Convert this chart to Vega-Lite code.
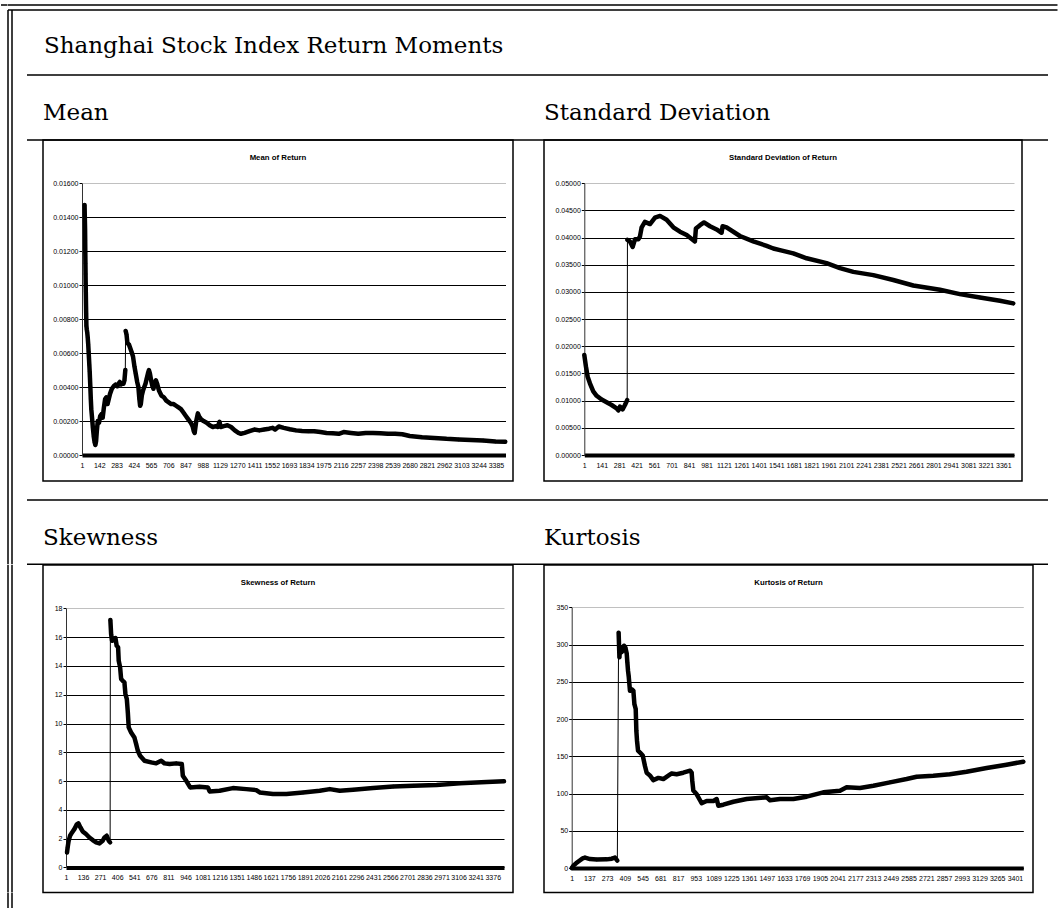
{
"$schema": "https://vega.github.io/schema/vega-lite/v6.json",
"background": "white",
"padding": 0,
"autosize": {"type": "pad"},
"config": {
  "view": {"stroke": null},
  "title": {"font": "DejaVu Serif", "fontSize": 23, "fontWeight": "normal", "color": "black", "anchor": "start", "frame": "group"},
  "axis": {"labelFont": "Liberation Sans", "labelFontSize": 7, "labelColor": "black", "tickColor": "black", "domainColor": "black"}
},
"data": {"values": []},
"datasets": {
"mean": [
{"t":22,"v":0.01472,"p":"a"},{"t":24,"v":0.014,"p":"a"},{"t":26,"v":0.01335,"p":"a"},{"t":27,"v":0.01262,"p":"a"},{"t":28,"v":0.01192,"p":"a"},{"t":29,"v":0.01129,"p":"a"},{"t":30,"v":0.01066,"p":"a"},{"t":31,"v":0.01011,"p":"a"},{"t":32,"v":0.00962,"p":"a"},{"t":33,"v":0.00917,"p":"a"},{"t":34,"v":0.00874,"p":"a"},{"t":35,"v":0.00834,"p":"a"},{"t":36,"v":0.00795,"p":"a"},{"t":37,"v":0.0076,"p":"a"},{"t":40,"v":0.0074,"p":"a"},{"t":44,"v":0.0072,"p":"a"},{"t":48,"v":0.0069,"p":"a"},{"t":52,"v":0.0065,"p":"a"},{"t":55,"v":0.0061,"p":"a"},{"t":58,"v":0.0057,"p":"a"},{"t":61,"v":0.0053,"p":"a"},{"t":64,"v":0.0049,"p":"a"},{"t":66,"v":0.00455,"p":"a"},{"t":69,"v":0.00405,"p":"a"},{"t":73,"v":0.0033,"p":"a"},{"t":77,"v":0.0027,"p":"a"},{"t":83,"v":0.0022,"p":"a"},{"t":90,"v":0.0016,"p":"a"},{"t":97,"v":0.0011,"p":"a"},{"t":104,"v":0.00075,"p":"a"},{"t":110,"v":0.00059,"p":"a"},{"t":116,"v":0.0008,"p":"a"},{"t":122,"v":0.0014,"p":"a"},{"t":130,"v":0.002,"p":"a"},{"t":140,"v":0.0019,"p":"a"},{"t":150,"v":0.0023,"p":"a"},{"t":160,"v":0.0024,"p":"a"},{"t":170,"v":0.0022,"p":"a"},{"t":180,"v":0.0028,"p":"a"},{"t":190,"v":0.0033,"p":"a"},{"t":200,"v":0.0034,"p":"a"},{"t":210,"v":0.003,"p":"a"},{"t":220,"v":0.0033,"p":"a"},{"t":230,"v":0.0036,"p":"a"},{"t":245,"v":0.0039,"p":"a"},{"t":260,"v":0.00405,"p":"a"},{"t":275,"v":0.00415,"p":"a"},{"t":290,"v":0.00405,"p":"a"},{"t":300,"v":0.0042,"p":"a"},{"t":310,"v":0.0043,"p":"a"},{"t":320,"v":0.00415,"p":"a"},{"t":330,"v":0.00425,"p":"a"},{"t":340,"v":0.0042,"p":"a"},{"t":348,"v":0.0044,"p":"a"},{"t":355,"v":0.005,"p":"a"},
{"t":358,"v":0.0073,"p":"b"},{"t":365,"v":0.0071,"p":"b"},{"t":372,"v":0.0066,"p":"b"},{"t":385,"v":0.0065,"p":"b"},{"t":395,"v":0.0063,"p":"b"},{"t":405,"v":0.0061,"p":"b"},{"t":418,"v":0.0058,"p":"b"},{"t":430,"v":0.0052,"p":"b"},{"t":440,"v":0.0048,"p":"b"},{"t":452,"v":0.0043,"p":"b"},{"t":462,"v":0.004,"p":"b"},{"t":470,"v":0.0033,"p":"b"},{"t":476,"v":0.0029,"p":"b"},{"t":482,"v":0.003,"p":"b"},{"t":490,"v":0.0035,"p":"b"},{"t":500,"v":0.0038,"p":"b"},{"t":510,"v":0.004,"p":"b"},{"t":520,"v":0.0042,"p":"b"},{"t":530,"v":0.0045,"p":"b"},{"t":540,"v":0.0048,"p":"b"},{"t":548,"v":0.005,"p":"b"},{"t":556,"v":0.0048,"p":"b"},{"t":566,"v":0.0044,"p":"b"},{"t":575,"v":0.0041,"p":"b"},{"t":585,"v":0.0039,"p":"b"},{"t":595,"v":0.0042,"p":"b"},{"t":605,"v":0.0044,"p":"b"},{"t":615,"v":0.0042,"p":"b"},{"t":630,"v":0.0038,"p":"b"},{"t":650,"v":0.0035,"p":"b"},{"t":670,"v":0.0034,"p":"b"},{"t":690,"v":0.0032,"p":"b"},{"t":710,"v":0.0031,"p":"b"},{"t":730,"v":0.003,"p":"b"},{"t":750,"v":0.003,"p":"b"},{"t":770,"v":0.0029,"p":"b"},{"t":790,"v":0.0028,"p":"b"},{"t":810,"v":0.0027,"p":"b"},{"t":830,"v":0.0025,"p":"b"},{"t":850,"v":0.0023,"p":"b"},{"t":870,"v":0.0021,"p":"b"},{"t":890,"v":0.0019,"p":"b"},{"t":905,"v":0.0017,"p":"b"},{"t":915,"v":0.0014,"p":"b"},{"t":922,"v":0.0013,"p":"b"},{"t":935,"v":0.002,"p":"b"},{"t":948,"v":0.00245,"p":"b"},{"t":960,"v":0.00225,"p":"b"},{"t":975,"v":0.0021,"p":"b"},{"t":995,"v":0.002,"p":"b"},{"t":1020,"v":0.0019,"p":"b"},{"t":1045,"v":0.00175,"p":"b"},{"t":1070,"v":0.00165,"p":"b"},{"t":1095,"v":0.0017,"p":"b"},{"t":1110,"v":0.00165,"p":"b"},{"t":1125,"v":0.00195,"p":"b"},{"t":1135,"v":0.00165,"p":"b"},{"t":1160,"v":0.0017,"p":"b"},{"t":1190,"v":0.00175,"p":"b"},{"t":1220,"v":0.00165,"p":"b"},{"t":1250,"v":0.00145,"p":"b"},{"t":1280,"v":0.0013,"p":"b"},{"t":1300,"v":0.00125,"p":"b"},{"t":1330,"v":0.0013,"p":"b"},{"t":1370,"v":0.0014,"p":"b"},{"t":1410,"v":0.0015,"p":"b"},{"t":1450,"v":0.00145,"p":"b"},{"t":1490,"v":0.0015,"p":"b"},{"t":1530,"v":0.00155,"p":"b"},{"t":1560,"v":0.0016,"p":"b"},{"t":1580,"v":0.0015,"p":"b"},{"t":1610,"v":0.00168,"p":"b"},{"t":1650,"v":0.0016,"p":"b"},{"t":1700,"v":0.00152,"p":"b"},{"t":1750,"v":0.00145,"p":"b"},{"t":1800,"v":0.00142,"p":"b"},{"t":1850,"v":0.0014,"p":"b"},{"t":1900,"v":0.0014,"p":"b"},{"t":1950,"v":0.00135,"p":"b"},{"t":2000,"v":0.0013,"p":"b"},{"t":2050,"v":0.00128,"p":"b"},{"t":2100,"v":0.00125,"p":"b"},{"t":2140,"v":0.00135,"p":"b"},{"t":2200,"v":0.0013,"p":"b"},{"t":2260,"v":0.00125,"p":"b"},{"t":2320,"v":0.0013,"p":"b"},{"t":2380,"v":0.0013,"p":"b"},{"t":2440,"v":0.00128,"p":"b"},{"t":2500,"v":0.00125,"p":"b"},{"t":2560,"v":0.00125,"p":"b"},{"t":2620,"v":0.00122,"p":"b"},{"t":2680,"v":0.00112,"p":"b"},{"t":2780,"v":0.00105,"p":"b"},{"t":2880,"v":0.001,"p":"b"},{"t":2980,"v":0.00095,"p":"b"},{"t":3080,"v":0.00092,"p":"b"},{"t":3180,"v":0.00088,"p":"b"},{"t":3280,"v":0.00085,"p":"b"},{"t":3380,"v":0.0008,"p":"b"},{"t":3461,"v":0.00078,"p":"b"}
],
"std": [
{"t":1,"v":0.0184,"p":"a"},{"t":14,"v":0.0163,"p":"a"},{"t":28,"v":0.0144,"p":"a"},{"t":46,"v":0.0132,"p":"a"},{"t":73,"v":0.0117,"p":"a"},{"t":100,"v":0.0109,"p":"a"},{"t":140,"v":0.0102,"p":"a"},{"t":180,"v":0.0097,"p":"a"},{"t":220,"v":0.0092,"p":"a"},{"t":260,"v":0.0086,"p":"a"},{"t":274,"v":0.0082,"p":"a"},{"t":287,"v":0.0089,"p":"a"},{"t":308,"v":0.0084,"p":"a"},{"t":327,"v":0.0092,"p":"a"},{"t":345,"v":0.0101,"p":"a"},
{"t":347,"v":0.0396,"p":"b"},{"t":367,"v":0.0393,"p":"b"},{"t":389,"v":0.0383,"p":"b"},{"t":407,"v":0.0397,"p":"b"},{"t":434,"v":0.0397,"p":"b"},{"t":447,"v":0.0402,"p":"b"},{"t":461,"v":0.0419,"p":"b"},{"t":487,"v":0.0429,"p":"b"},{"t":528,"v":0.0425,"p":"b"},{"t":568,"v":0.0437,"p":"b"},{"t":608,"v":0.044,"p":"b"},{"t":661,"v":0.0433,"p":"b"},{"t":715,"v":0.0419,"p":"b"},{"t":768,"v":0.0411,"p":"b"},{"t":822,"v":0.0405,"p":"b"},{"t":888,"v":0.0393,"p":"b"},{"t":896,"v":0.0417,"p":"b"},{"t":929,"v":0.0423,"p":"b"},{"t":961,"v":0.0428,"p":"b"},{"t":1009,"v":0.0421,"p":"b"},{"t":1062,"v":0.0415,"p":"b"},{"t":1102,"v":0.0409,"p":"b"},{"t":1110,"v":0.0421,"p":"b"},{"t":1142,"v":0.0419,"p":"b"},{"t":1249,"v":0.0403,"p":"b"},{"t":1356,"v":0.0393,"p":"b"},{"t":1463,"v":0.0385,"p":"b"},{"t":1517,"v":0.038,"p":"b"},{"t":1570,"v":0.0377,"p":"b"},{"t":1677,"v":0.0371,"p":"b"},{"t":1784,"v":0.0362,"p":"b"},{"t":1944,"v":0.0353,"p":"b"},{"t":2051,"v":0.0344,"p":"b"},{"t":2158,"v":0.0337,"p":"b"},{"t":2319,"v":0.0331,"p":"b"},{"t":2479,"v":0.0322,"p":"b"},{"t":2639,"v":0.0312,"p":"b"},{"t":2853,"v":0.0304,"p":"b"},{"t":3013,"v":0.0296,"p":"b"},{"t":3174,"v":0.029,"p":"b"},{"t":3334,"v":0.0284,"p":"b"},{"t":3441,"v":0.0279,"p":"b"}
],
"skew": [
{"t":9,"v":1.04,"p":"a"},{"t":14,"v":1.39,"p":"a"},{"t":22,"v":1.85,"p":"a"},{"t":33,"v":2.2,"p":"a"},{"t":49,"v":2.43,"p":"a"},{"t":67,"v":2.66,"p":"a"},{"t":85,"v":2.97,"p":"a"},{"t":99,"v":3.06,"p":"a"},{"t":115,"v":2.78,"p":"a"},{"t":133,"v":2.5,"p":"a"},{"t":159,"v":2.32,"p":"a"},{"t":186,"v":2.08,"p":"a"},{"t":212,"v":1.9,"p":"a"},{"t":239,"v":1.74,"p":"a"},{"t":265,"v":1.67,"p":"a"},{"t":291,"v":1.85,"p":"a"},{"t":305,"v":2.08,"p":"a"},{"t":323,"v":2.2,"p":"a"},{"t":339,"v":1.85,"p":"a"},{"t":350,"v":1.74,"p":"a"},
{"t":352,"v":17.19,"p":"b"},{"t":358,"v":16.2,"p":"b"},{"t":365,"v":15.75,"p":"b"},{"t":379,"v":15.87,"p":"b"},{"t":392,"v":15.94,"p":"b"},{"t":402,"v":15.4,"p":"b"},{"t":413,"v":15.3,"p":"b"},{"t":418,"v":14.36,"p":"b"},{"t":429,"v":13.9,"p":"b"},{"t":437,"v":13.1,"p":"b"},{"t":450,"v":12.97,"p":"b"},{"t":463,"v":12.86,"p":"b"},{"t":471,"v":12.05,"p":"b"},{"t":482,"v":11.7,"p":"b"},{"t":490,"v":10.77,"p":"b"},{"t":497,"v":9.73,"p":"b"},{"t":516,"v":9.38,"p":"b"},{"t":542,"v":9.03,"p":"b"},{"t":556,"v":8.57,"p":"b"},{"t":569,"v":8.11,"p":"b"},{"t":587,"v":7.76,"p":"b"},{"t":622,"v":7.41,"p":"b"},{"t":674,"v":7.3,"p":"b"},{"t":714,"v":7.23,"p":"b"},{"t":754,"v":7.41,"p":"b"},{"t":780,"v":7.23,"p":"b"},{"t":820,"v":7.18,"p":"b"},{"t":872,"v":7.23,"p":"b"},{"t":917,"v":7.18,"p":"b"},{"t":925,"v":6.37,"p":"b"},{"t":952,"v":6.02,"p":"b"},{"t":983,"v":5.56,"p":"b"},{"t":1057,"v":5.6,"p":"b"},{"t":1123,"v":5.56,"p":"b"},{"t":1137,"v":5.28,"p":"b"},{"t":1216,"v":5.33,"p":"b"},{"t":1321,"v":5.51,"p":"b"},{"t":1427,"v":5.44,"p":"b"},{"t":1506,"v":5.37,"p":"b"},{"t":1533,"v":5.21,"p":"b"},{"t":1638,"v":5.1,"p":"b"},{"t":1744,"v":5.1,"p":"b"},{"t":1876,"v":5.21,"p":"b"},{"t":2008,"v":5.33,"p":"b"},{"t":2087,"v":5.44,"p":"b"},{"t":2166,"v":5.33,"p":"b"},{"t":2272,"v":5.4,"p":"b"},{"t":2430,"v":5.51,"p":"b"},{"t":2589,"v":5.63,"p":"b"},{"t":2747,"v":5.68,"p":"b"},{"t":2932,"v":5.72,"p":"b"},{"t":3117,"v":5.84,"p":"b"},{"t":3328,"v":5.93,"p":"b"},{"t":3465,"v":5.98,"p":"b"}
],
"kurt": [
{"t":1,"v":0,"p":"a"},{"t":6,"v":1,"p":"a"},{"t":14,"v":3.1,"p":"a"},{"t":34,"v":6.3,"p":"a"},{"t":60,"v":9.8,"p":"a"},{"t":85,"v":13,"p":"a"},{"t":103,"v":14,"p":"a"},{"t":142,"v":12,"p":"a"},{"t":193,"v":11.5,"p":"a"},{"t":269,"v":11.6,"p":"a"},{"t":308,"v":12.5,"p":"a"},{"t":333,"v":14,"p":"a"},{"t":351,"v":10,"p":"a"},
{"t":361,"v":316,"p":"b"},{"t":367,"v":283,"p":"b"},{"t":372,"v":296,"p":"b"},{"t":384,"v":290,"p":"b"},{"t":397,"v":294,"p":"b"},{"t":402,"v":298.5,"p":"b"},{"t":413,"v":296,"p":"b"},{"t":423,"v":288,"p":"b"},{"t":428,"v":276,"p":"b"},{"t":433,"v":265,"p":"b"},{"t":438,"v":258,"p":"b"},{"t":448,"v":238,"p":"b"},{"t":461,"v":240,"p":"b"},{"t":474,"v":238,"p":"b"},{"t":482,"v":220,"p":"b"},{"t":492,"v":213.5,"p":"b"},{"t":497,"v":184,"p":"b"},{"t":502,"v":171,"p":"b"},{"t":510,"v":157.5,"p":"b"},{"t":525,"v":155,"p":"b"},{"t":546,"v":151,"p":"b"},{"t":563,"v":137,"p":"b"},{"t":576,"v":128,"p":"b"},{"t":602,"v":124,"p":"b"},{"t":627,"v":118,"p":"b"},{"t":666,"v":121,"p":"b"},{"t":704,"v":119.5,"p":"b"},{"t":742,"v":124,"p":"b"},{"t":768,"v":127,"p":"b"},{"t":806,"v":126,"p":"b"},{"t":857,"v":128,"p":"b"},{"t":909,"v":130.7,"p":"b"},{"t":921,"v":128,"p":"b"},{"t":926,"v":117,"p":"b"},{"t":934,"v":104,"p":"b"},{"t":960,"v":99,"p":"b"},{"t":998,"v":87,"p":"b"},{"t":1036,"v":90,"p":"b"},{"t":1088,"v":90,"p":"b"},{"t":1113,"v":92.6,"p":"b"},{"t":1126,"v":83.7,"p":"b"},{"t":1164,"v":85,"p":"b"},{"t":1241,"v":89,"p":"b"},{"t":1343,"v":92.6,"p":"b"},{"t":1497,"v":94.9,"p":"b"},{"t":1522,"v":91,"p":"b"},{"t":1599,"v":92.6,"p":"b"},{"t":1701,"v":92.6,"p":"b"},{"t":1803,"v":95.8,"p":"b"},{"t":1931,"v":101.6,"p":"b"},{"t":2059,"v":103.8,"p":"b"},{"t":2110,"v":108.3,"p":"b"},{"t":2212,"v":107.4,"p":"b"},{"t":2315,"v":110.5,"p":"b"},{"t":2442,"v":115,"p":"b"},{"t":2570,"v":119.5,"p":"b"},{"t":2647,"v":122.6,"p":"b"},{"t":2775,"v":124,"p":"b"},{"t":2902,"v":126,"p":"b"},{"t":3030,"v":129.3,"p":"b"},{"t":3184,"v":134.3,"p":"b"},{"t":3337,"v":138.7,"p":"b"},{"t":3465,"v":142.8,"p":"b"}
]
},
"columns": 9,
"spacing": 0,
"bounds": "flush",
"align": "each",
"concat": [
 {"width": 6.5, "height": 5, "mark": "point", "encoding": {}},
 {"width": 4, "height": 5, "mark": "point", "encoding": {}},
 {"width": 15, "height": 5, "mark": "point", "encoding": {}},
 {"width": 16, "height": 5, "mark": "point", "encoding": {}},
 {"width": 470, "height": 5, "mark": "point", "encoding": {}},
 {"width": 31, "height": 5, "mark": "point", "encoding": {}},
 {"width": 489, "height": 5, "mark": "point", "encoding": {}},
 {"width": 15, "height": 5, "mark": "point", "encoding": {}},
 {"width": 9.5, "height": 5, "mark": "point", "encoding": {}},

 {"width": 6.5, "height": 5, "mark": "point", "encoding": {}, "view": {"stroke": "black", "strokeWidth": 1.5, "strokeDash": [6.5, 16.5]}},
 {"width": 4, "height": 5, "mark": "point", "encoding": {}, "view": {"stroke": "black", "strokeWidth": 1.5, "strokeDash": [4, 5, 4, 5]}},
 {"width": 15, "height": 5, "mark": "point", "encoding": {}, "view": {"stroke": "black", "strokeWidth": 1.5, "strokeDash": [15, 5, 15, 5]}},
 {"width": 16, "height": 5, "mark": "point", "encoding": {}, "view": {"stroke": "black", "strokeWidth": 1.5, "strokeDash": [16, 5, 16, 5]}},
 {"width": 470, "height": 5, "mark": "point", "encoding": {}, "view": {"stroke": "black", "strokeWidth": 1.5, "strokeDash": [470, 5, 470, 5]}},
 {"width": 31, "height": 5, "mark": "point", "encoding": {}, "view": {"stroke": "black", "strokeWidth": 1.5, "strokeDash": [31, 5, 31, 5]}},
 {"width": 489, "height": 5, "mark": "point", "encoding": {}, "view": {"stroke": "black", "strokeWidth": 1.5, "strokeDash": [489, 5, 489, 5]}},
 {"width": 15, "height": 5, "mark": "point", "encoding": {}, "view": {"stroke": "black", "strokeWidth": 1.5, "strokeDash": [15, 5, 15, 5]}},
 {"width": 9.5, "height": 5, "mark": "point", "encoding": {}, "view": {"stroke": "black", "strokeWidth": 1.5, "strokeDash": [9.5, 5, 9.5, 5]}},

 {"width": 6.5, "height": 65, "mark": "point", "encoding": {}},
 {"width": 4, "height": 65, "mark": "point", "encoding": {}, "view": {"stroke": "black", "strokeWidth": 1.5, "strokeDash": [0, 4, 65, 4, 65, 0]}},
 {"width": 15, "height": 65, "mark": "point", "encoding": {}},
 {"width": 16, "height": 65, "mark": "point", "encoding": {}},
 {"width": 470, "height": 65, "mark": "point", "encoding": {}, "title": {"text": "Shanghai Stock Index Return Moments", "dx": 1, "offset": -48}},
 {"width": 31, "height": 65, "mark": "point", "encoding": {}},
 {"width": 489, "height": 65, "mark": "point", "encoding": {}},
 {"width": 15, "height": 65, "mark": "point", "encoding": {}},
 {"width": 9.5, "height": 65, "mark": "point", "encoding": {}},

 {"width": 6.5, "height": 65, "mark": "point", "encoding": {}},
 {"width": 4, "height": 65, "mark": "point", "encoding": {}, "view": {"stroke": "black", "strokeWidth": 1.5, "strokeDash": [0, 4, 65, 4, 65, 0]}},
 {"width": 15, "height": 65, "mark": "point", "encoding": {}},
 {"width": 16, "height": 65, "mark": "point", "encoding": {}, "view": {"stroke": "black", "strokeWidth": 1.5, "strokeDash": [16, 65, 16, 65]}},
 {"width": 470, "height": 65, "mark": "point", "encoding": {}, "view": {"stroke": "black", "strokeWidth": 1.5, "strokeDash": [470, 65, 470, 65]}, "title": {"text": "Mean", "dx": 0, "offset": -50}},
 {"width": 31, "height": 65, "mark": "point", "encoding": {}, "view": {"stroke": "black", "strokeWidth": 1.5, "strokeDash": [31, 65, 31, 65]}},
 {"width": 489, "height": 65, "mark": "point", "encoding": {}, "view": {"stroke": "black", "strokeWidth": 1.5, "strokeDash": [489, 65, 489, 65]}, "title": {"text": "Standard Deviation", "dx": 0, "offset": -50}},
 {"width": 15, "height": 65, "mark": "point", "encoding": {}, "view": {"stroke": "black", "strokeWidth": 1.5, "strokeDash": [15, 65, 15, 65]}},
 {"width": 9.5, "height": 65, "mark": "point", "encoding": {}},

 {"width": 6.5, "height": 341, "mark": "point", "encoding": {}},
 {"width": 4, "height": 341, "mark": "point", "encoding": {}, "view": {"stroke": "black", "strokeWidth": 1.5, "strokeDash": [0, 4, 341, 4, 341, 0]}},
 {"width": 15, "height": 341, "mark": "point", "encoding": {}},
 {"width": 16, "height": 341, "mark": "point", "encoding": {}},
 {"width": 470, "height": 341, "view": {"stroke": "black", "strokeWidth": 1.5},
  "title": {"text": "Mean of Return", "font": "Liberation Sans", "fontSize": 7.8, "fontWeight": "bold", "anchor": "middle", "offset": -22},
  "data": {"name": "mean"},
  "encoding": {
    "x": {"field": "t", "type": "quantitative", "scale": {"domain": [1, 3463], "range": [39, 462.5], "nice": false, "zero": false},
          "axis": {"title": null, "offset": -26, "format": "d", "values": [1,142,283,424,565,706,847,988,1129,1270,1411,1552,1693,1834,1975,2116,2257,2398,2539,2680,2821,2962,3103,3244,3385], "grid": false, "ticks": false, "domainWidth": 4, "labelPadding": 6.5, "labelOverlap": false, "labelFlush": false, "labelBound": false}},
    "y": {"field": "v", "type": "quantitative", "scale": {"domain": [0, 0.016], "range": [315, 43.3], "nice": false, "zero": false},
          "axis": {"title": null, "offset": -39, "values": [0,0.002,0.004,0.006,0.008,0.01,0.012,0.014,0.016], "format": ".5f", "grid": true, "gridColor": {"condition": {"test": "datum.value >= 0.016", "value": "#c0c0c0"}, "value": "black"}, "gridWidth": 1, "domainWidth": 1, "domainColor": "#333333", "tickSize": 3, "labelPadding": 1, "labelOverlap": false}}
  },
  "layer": [
    {"mark": {"type": "line", "color": "black", "strokeWidth": 1}, "encoding": {}},
    {"mark": {"type": "line", "color": "black", "strokeWidth": 4.5, "strokeJoin": "round", "strokeCap": "round"}, "encoding": {"detail": {"field": "p"}}},
    {"mark": {"type": "point", "shape": "diamond", "filled": true, "color": "black", "size": 16, "opacity": 1}}
  ]},
 {"width": 31, "height": 341, "mark": "point", "encoding": {}},
 {"width": 478, "height": 341, "view": {"stroke": "black", "strokeWidth": 1.5},
  "title": {"text": "Standard Deviation of Return", "font": "Liberation Sans", "fontSize": 7.8, "fontWeight": "bold", "anchor": "middle", "offset": -22},
  "data": {"name": "std"},
  "encoding": {
    "x": {"field": "t", "type": "quantitative", "scale": {"domain": [1, 3447], "range": [40.3, 470], "nice": false, "zero": false},
          "axis": {"title": null, "offset": -26, "format": "d", "values": [1,141,281,421,561,701,841,981,1121,1261,1401,1541,1681,1821,1961,2101,2241,2381,2521,2661,2801,2941,3081,3221,3361], "grid": false, "ticks": false, "domainWidth": 4, "labelPadding": 6.5, "labelOverlap": false, "labelFlush": false, "labelBound": false}},
    "y": {"field": "v", "type": "quantitative", "scale": {"domain": [0, 0.05], "range": [315, 43.3], "nice": false, "zero": false},
          "axis": {"title": null, "offset": -40.3, "values": [0,0.005,0.01,0.015,0.02,0.025,0.03,0.035,0.04,0.045,0.05], "format": ".5f", "grid": true, "gridColor": {"condition": {"test": "datum.value >= 0.05", "value": "#c0c0c0"}, "value": "black"}, "gridWidth": 1, "domainWidth": 1, "domainColor": "#333333", "tickSize": 3, "labelPadding": 1, "labelOverlap": false}}
  },
  "layer": [
    {"mark": {"type": "line", "color": "black", "strokeWidth": 1}, "encoding": {}},
    {"mark": {"type": "line", "color": "black", "strokeWidth": 4.5, "strokeJoin": "round", "strokeCap": "round"}, "encoding": {"detail": {"field": "p"}}},
    {"mark": {"type": "point", "shape": "diamond", "filled": true, "color": "black", "size": 16, "opacity": 1}}
  ]},
 {"width": 15, "height": 341, "mark": "point", "encoding": {}},
 {"width": 9.5, "height": 341, "mark": "point", "encoding": {}},

 {"width": 6.5, "height": 19, "mark": "point", "encoding": {}},
 {"width": 4, "height": 19, "mark": "point", "encoding": {}, "view": {"stroke": "black", "strokeWidth": 1.5, "strokeDash": [0, 4, 19, 4, 19, 0]}},
 {"width": 15, "height": 19, "mark": "point", "encoding": {}},
 {"width": 16, "height": 19, "mark": "point", "encoding": {}},
 {"width": 470, "height": 19, "mark": "point", "encoding": {}},
 {"width": 31, "height": 19, "mark": "point", "encoding": {}},
 {"width": 489, "height": 19, "mark": "point", "encoding": {}},
 {"width": 15, "height": 19, "mark": "point", "encoding": {}},
 {"width": 9.5, "height": 19, "mark": "point", "encoding": {}},

 {"width": 6.5, "height": 64.3, "mark": "point", "encoding": {}},
 {"width": 4, "height": 64.3, "mark": "point", "encoding": {}, "view": {"stroke": "black", "strokeWidth": 1.5, "strokeDash": [0, 4, 64.3, 4, 64.3, 0]}},
 {"width": 15, "height": 64.3, "mark": "point", "encoding": {}},
 {"width": 16, "height": 64.3, "mark": "point", "encoding": {}, "view": {"stroke": "black", "strokeWidth": 1.5, "strokeDash": [16, 64.3, 16, 64.3]}},
 {"width": 470, "height": 64.3, "mark": "point", "encoding": {}, "view": {"stroke": "black", "strokeWidth": 1.5, "strokeDash": [470, 64.3, 470, 64.3]}, "title": {"text": "Skewness", "dx": 0, "offset": -50}},
 {"width": 31, "height": 64.3, "mark": "point", "encoding": {}, "view": {"stroke": "black", "strokeWidth": 1.5, "strokeDash": [31, 64.3, 31, 64.3]}},
 {"width": 489, "height": 64.3, "mark": "point", "encoding": {}, "view": {"stroke": "black", "strokeWidth": 1.5, "strokeDash": [489, 64.3, 489, 64.3]}, "title": {"text": "Kurtosis", "dx": 0, "offset": -50}},
 {"width": 15, "height": 64.3, "mark": "point", "encoding": {}, "view": {"stroke": "black", "strokeWidth": 1.5, "strokeDash": [15, 64.3, 15, 64.3]}},
 {"width": 9.5, "height": 64.3, "mark": "point", "encoding": {}},

 {"width": 6.5, "height": 327.5, "mark": "point", "encoding": {}},
 {"width": 4, "height": 327.5, "mark": "point", "encoding": {}, "view": {"stroke": "black", "strokeWidth": 1.5, "strokeDash": [0, 4, 327.5, 4, 327.5, 0]}},
 {"width": 15, "height": 327.5, "mark": "point", "encoding": {}},
 {"width": 16, "height": 327.5, "mark": "point", "encoding": {}},
 {"width": 470, "height": 327.5, "view": {"stroke": "black", "strokeWidth": 1.5},
  "title": {"text": "Skewness of Return", "font": "Liberation Sans", "fontSize": 7.8, "fontWeight": "bold", "anchor": "middle", "offset": -22},
  "data": {"name": "skew"},
  "encoding": {
    "x": {"field": "t", "type": "quantitative", "scale": {"domain": [1, 3465], "range": [23, 461], "nice": false, "zero": false},
          "axis": {"title": null, "offset": -25.1, "format": "d", "values": [1,136,271,406,541,676,811,946,1081,1216,1351,1486,1621,1756,1891,2026,2161,2296,2431,2566,2701,2836,2971,3106,3241,3376], "grid": false, "ticks": false, "domainWidth": 4, "labelPadding": 6.5, "labelOverlap": false, "labelFlush": false, "labelBound": false}},
    "y": {"field": "v", "type": "quantitative", "scale": {"domain": [0, 18], "range": [302.4, 43.4], "nice": false, "zero": false},
          "axis": {"title": null, "offset": -23, "values": [0,2,4,6,8,10,12,14,16,18], "format": "d", "grid": true, "gridColor": {"condition": {"test": "datum.value >= 18", "value": "#c0c0c0"}, "value": "black"}, "gridWidth": 1, "domainWidth": 1, "domainColor": "#333333", "tickSize": 3, "labelPadding": 1, "labelOverlap": false}}
  },
  "layer": [
    {"mark": {"type": "line", "color": "black", "strokeWidth": 1}, "encoding": {}},
    {"mark": {"type": "line", "color": "black", "strokeWidth": 4.5, "strokeJoin": "round", "strokeCap": "round"}, "encoding": {"detail": {"field": "p"}}},
    {"mark": {"type": "point", "shape": "diamond", "filled": true, "color": "black", "size": 16, "opacity": 1}}
  ]},
 {"width": 31, "height": 327.5, "mark": "point", "encoding": {}},
 {"width": 489, "height": 327.5, "view": {"stroke": "black", "strokeWidth": 1.5},
  "title": {"text": "Kurtosis of Return", "font": "Liberation Sans", "fontSize": 7.8, "fontWeight": "bold", "anchor": "middle", "offset": -22},
  "data": {"name": "kurt"},
  "encoding": {
    "x": {"field": "t", "type": "quantitative", "scale": {"domain": [1, 3465], "range": [27.7, 479.3], "nice": false, "zero": false},
          "axis": {"title": null, "offset": -24.5, "format": "d", "values": [1,137,273,409,545,681,817,953,1089,1225,1361,1497,1633,1769,1905,2041,2177,2313,2449,2585,2721,2857,2993,3129,3265,3401], "grid": false, "ticks": false, "domainWidth": 4, "labelPadding": 6.5, "labelOverlap": false, "labelFlush": false, "labelBound": false}},
    "y": {"field": "v", "type": "quantitative", "scale": {"domain": [0, 350], "range": [303, 42.4], "nice": false, "zero": false},
          "axis": {"title": null, "offset": -27.7, "values": [0,50,100,150,200,250,300,350], "format": "d", "grid": true, "gridColor": {"condition": {"test": "datum.value >= 350", "value": "#c0c0c0"}, "value": "black"}, "gridWidth": 1, "domainWidth": 1, "domainColor": "#333333", "tickSize": 3, "labelPadding": 1, "labelOverlap": false}}
  },
  "layer": [
    {"mark": {"type": "line", "color": "black", "strokeWidth": 1}, "encoding": {}},
    {"mark": {"type": "line", "color": "black", "strokeWidth": 4.5, "strokeJoin": "round", "strokeCap": "round"}, "encoding": {"detail": {"field": "p"}}},
    {"mark": {"type": "point", "shape": "diamond", "filled": true, "color": "black", "size": 16, "opacity": 1}}
  ]},
 {"width": 15, "height": 327.5, "mark": "point", "encoding": {}},
 {"width": 9.5, "height": 327.5, "mark": "point", "encoding": {}},

 {"width": 6.5, "height": 15, "mark": "point", "encoding": {}},
 {"width": 4, "height": 15, "mark": "point", "encoding": {}, "view": {"stroke": "black", "strokeWidth": 1.5, "strokeDash": [0, 4, 15, 4, 15, 0]}},
 {"width": 15, "height": 15, "mark": "point", "encoding": {}},
 {"width": 16, "height": 15, "mark": "point", "encoding": {}},
 {"width": 470, "height": 15, "mark": "point", "encoding": {}},
 {"width": 31, "height": 15, "mark": "point", "encoding": {}},
 {"width": 489, "height": 15, "mark": "point", "encoding": {}},
 {"width": 15, "height": 15, "mark": "point", "encoding": {}},
 {"width": 9.5, "height": 15, "mark": "point", "encoding": {}}
]
}
